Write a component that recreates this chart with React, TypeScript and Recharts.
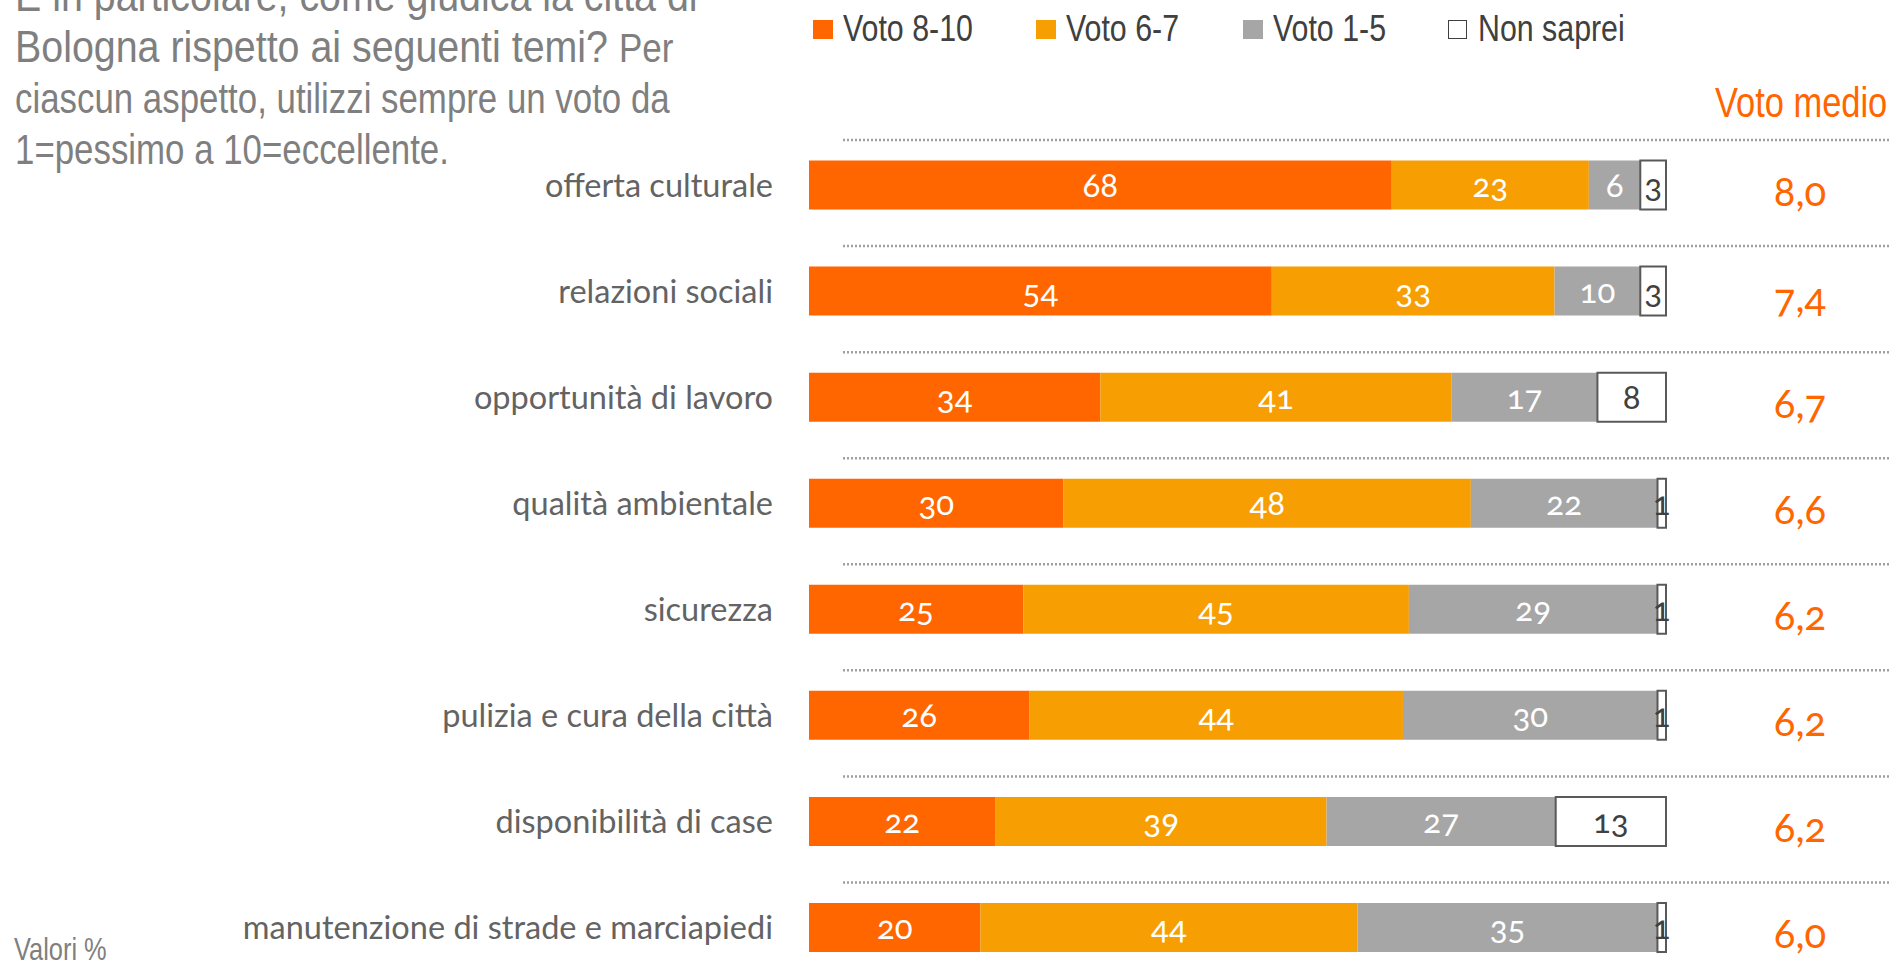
import { BarChart, Bar, XAxis, YAxis, Legend, LabelList } from 'recharts'

const categories = [
  'offerta culturale',
  'relazioni sociali',
  'opportunità di lavoro',
  'qualità ambientale',
  'sicurezza',
  'pulizia e cura della città',
  'disponibilità di case',
  'manutenzione di strade e marciapiedi'
]
const voto810 = [68, 54, 34, 30, 25, 26, 22, 20]
const voto67 = [23, 33, 41, 48, 45, 44, 39, 44]
const voto15 = [6, 10, 17, 22, 29, 30, 27, 35]
const nonSaprei = [3, 3, 8, 1, 1, 1, 13, 1]
const votoMedio = [8.0, 7.4, 6.7, 6.6, 6.2, 6.2, 6.2, 6.0]

const series = [
  { key: 'v810', name: 'Voto 8-10', color: '#ff6600' },
  { key: 'v67', name: 'Voto 6-7', color: '#f79e02' },
  { key: 'v15', name: 'Voto 1-5', color: '#a6a6a6' },
  { key: 'ns', name: 'Non saprei', color: '#ffffff' }
]

const data = categories.map((c, i) => ({
  name: c,
  v810: voto810[i],
  v67: voto67[i],
  v15: voto15[i],
  ns: nonSaprei[i],
  medio: votoMedio[i]
}))

// no Arial Narrow available: squeeze Liberation Sans (same metrics as Arial)
const SANS = "'Liberation Sans', Arial, sans-serif"
const SQ = 0.82
const CAL = "Lato, 'Open Sans', sans-serif"
const NUM = { fontFamily: CAL, fontFeatureSettings: '"onum"' }

const Narrow = ({ x, y, size, fill, sq = SQ, children }: any) => (
  <g transform={`translate(${x},${y}) scale(${sq},1)`}>
    <text x={0} y={0} fontSize={size} fill={fill} fontFamily={SANS}>
      {children}
    </text>
  </g>
)

const CategoryTick = (props: any) => {
  const { x, y, payload } = props
  return (
    <g>
      <line x1={x + 70} x2={x + 1120} y1={y - 44.5} y2={y - 44.5} stroke="#a0a0a0" strokeWidth={2.5} strokeDasharray="2 2" />
      <text x={x} y={y} textAnchor="end" dominantBaseline="central" fill="#636363" fontSize={32.5} fontFamily={CAL}>
        {payload.value}
      </text>
    </g>
  )
}

const MedioLabel = (props: any) => {
  const vb = props.viewBox || props
  const x = vb.x ?? props.x
  const y = vb.y ?? props.y
  const w = vb.width ?? props.width
  const h = vb.height ?? props.height
  const v = Number(props.value).toFixed(1).replace('.', ',')
  return (
    <text x={x + w + 134} y={y + h / 2 + 21} textAnchor="middle" fill="#ff6600" fontSize={40} style={NUM}>
      {v}
    </text>
  )
}

const legendLeft = [0, 223, 430, 635]

const LegendContent = () => (
  <div style={{ position: 'relative', height: 0, fontFamily: SANS, fontSize: 37, color: '#404040' }}>
    {series.map((s, i) => (
      <div key={s.key} style={{ position: 'absolute', left: legendLeft[i], top: 0, width: 220, height: 50 }}>
        <span
          style={{
            position: 'absolute',
            left: 0,
            top: 20,
            width: s.key === 'ns' ? 17 : 20,
            height: s.key === 'ns' ? 17 : 19,
            background: s.color,
            border: s.key === 'ns' ? '1.5px solid #404040' : 'none'
          }}
        />
        <span
          style={{
            position: 'absolute',
            left: 30,
            top: 10,
            lineHeight: '37px',
            whiteSpace: 'nowrap',
            transform: `scaleX(${SQ})`,
            transformOrigin: 'left center'
          }}
        >
          {s.name}
        </span>
      </div>
    ))}
  </div>
)

export default function App() {
  return (
    <div style={{ position: 'absolute', left: 0, top: 0, width: 1891, height: 977, overflow: 'hidden', background: '#fff' }}>
      <svg width={1891} height={977} style={{ position: 'absolute', left: 0, top: 0 }}>
        <Narrow x={15} y={11} size={45} sq={0.875} fill="#7f7f7f">È in particolare, come giudica la città di</Narrow>
        <Narrow x={15} y={62} size={45} sq={0.875} fill="#7f7f7f">
          Bologna rispetto ai seguenti temi? <tspan fontSize={40}>Per</tspan>
        </Narrow>
        <Narrow x={15} y={113} size={42.5} fill="#7f7f7f">ciascun aspetto, utilizzi sempre un voto da</Narrow>
        <Narrow x={15} y={164} size={42.5} fill="#7f7f7f">1=pessimo a 10=eccellente.</Narrow>
        <Narrow x={1715} y={117} size={42} fill="#ff6600">Voto medio</Narrow>
        <Narrow x={14} y={960} size={31} fill="#7f7f7f">Valori %</Narrow>
      </svg>
      <div style={{ position: 'absolute', left: 0, top: 0 }}>
        <BarChart
          width={1891}
          height={980}
          data={data}
          layout="vertical"
          stackOffset="expand"
          margin={{ top: 131.5, right: 225, bottom: 0, left: 0 }}
          barCategoryGap={0}
        >
          <XAxis type="number" hide domain={[0, 1]} />
          <YAxis
            type="category"
            dataKey="name"
            width={809}
            axisLine={false}
            tickLine={false}
            tickSize={0}
            tickMargin={36}
            interval={0}
            tick={<CategoryTick />}
          />
          <Legend
            verticalAlign="top"
            align="left"
            content={<LegendContent />}
            wrapperStyle={{ position: 'absolute', left: 813, top: 0, width: 1000, height: 0 }}
          />
          <Bar dataKey="v810" name="Voto 8-10" stackId="a" fill="#ff6600" barSize={49} isAnimationActive={false}>
            <LabelList dataKey="v810" position="center" fill="#ffffff" fontSize={33} style={NUM} />
          </Bar>
          <Bar dataKey="v67" name="Voto 6-7" stackId="a" fill="#f79e02" barSize={49} isAnimationActive={false}>
            <LabelList dataKey="v67" position="center" fill="#ffffff" fontSize={33} style={NUM} />
          </Bar>
          <Bar dataKey="v15" name="Voto 1-5" stackId="a" fill="#a6a6a6" barSize={49} isAnimationActive={false}>
            <LabelList dataKey="v15" position="center" fill="#ffffff" fontSize={33} style={NUM} />
          </Bar>
          <Bar dataKey="ns" name="Non saprei" stackId="a" fill="#ffffff" stroke="#595959" strokeWidth={2} barSize={49} isAnimationActive={false}>
            <LabelList dataKey="ns" position="center" fill="#404040" fontSize={33} style={NUM} />
            <LabelList dataKey="medio" content={<MedioLabel />} />
          </Bar>
        </BarChart>
      </div>
    </div>
  )
}
